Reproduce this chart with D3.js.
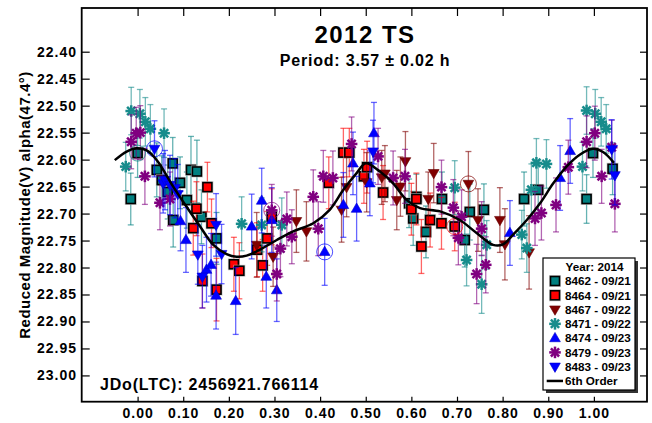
<!DOCTYPE html>
<html><head><meta charset="utf-8">
<script src="https://cdn.jsdelivr.net/npm/d3@7"></script>
<style>
html,body{margin:0;padding:0;background:#fff;}
svg{display:block;}
text{font-family:'Liberation Sans',Arial,sans-serif;font-weight:bold;fill:#000;}
</style></head>
<body>
<svg id="chart" width="652" height="423"></svg>
<script>
// ---------- DATA ----------
const titleText = "2012 TS";
const periodText = "Period: 3.57 \u00b1 0.02 h";
const jdText = "JDo(LTC): 2456921.766114";
const yTitle = "Reduced Magnitude(V) alpha(47.4\u00b0)";
const legendTitle = "Year: 2014";
const sessionIds = ["8462", "8464", "8467", "8471", "8474", "8479", "8483"];
const sessionDates = ["09/21", "09/21", "09/22", "09/22", "09/23", "09/23", "09/23"];
const fitLabel = "6th Order";

const xTicks = [0.0, 0.1, 0.2, 0.3, 0.4, 0.5, 0.6, 0.7, 0.8, 0.9, 1.0];
const yTicks = [22.40, 22.45, 22.50, 22.55, 22.60, 22.65, 22.70, 22.75, 22.80, 22.85, 22.90, 22.95, 23.00];

const p8462 = [-0.015, 0.000, 0.042, 0.077, 0.117, 0.130, 0.053, 0.066, 0.093, 0.108, 0.078, 0.140, 0.173, 0.595, 0.611, 0.604, 0.632, 0.667, 0.728, 0.759, 0.717, 0.847, 0.878, 0.984, 0.998, 1.041];
const m8462 = [22.673, 22.588, 22.619, 22.607, 22.619, 22.622, 22.638, 22.660, 22.643, 22.675, 22.712, 22.706, 22.746, 22.681, 22.669, 22.709, 22.734, 22.673, 22.697, 22.693, 22.749, 22.673, 22.656, 22.673, 22.588, 22.617];
const e8462 = [0.048, 0.045, 0.050, 0.048, 0.062, 0.058, 0.045, 0.050, 0.048, 0.052, 0.050, 0.050, 0.048, 0.045, 0.042, 0.050, 0.048, 0.050, 0.052, 0.048, 0.050, 0.050, 0.048, 0.045, 0.045, 0.048];

const p8464 = [0.153, 0.129, 0.162, 0.122, 0.142, 0.173, 0.211, 0.223, 0.262, 0.274, 0.284, 0.294, 0.419, 0.451, 0.464, 0.496, 0.503, 0.538, 0.600, 0.611, 0.641, 0.666, 0.695, 0.622];
const m8464 = [22.651, 22.691, 22.718, 22.727, 22.825, 22.841, 22.794, 22.806, 22.767, 22.796, 22.746, 22.706, 22.643, 22.587, 22.587, 22.631, 22.614, 22.661, 22.692, 22.673, 22.712, 22.718, 22.724, 22.761];
const e8464 = [0.046, 0.050, 0.045, 0.050, 0.050, 0.058, 0.050, 0.052, 0.050, 0.048, 0.050, 0.052, 0.048, 0.045, 0.045, 0.050, 0.048, 0.050, 0.048, 0.048, 0.050, 0.048, 0.045, 0.050];

const p8467 = [0.261, 0.297, 0.348, 0.370, 0.447, 0.458, 0.502, 0.535, 0.542, 0.568, 0.576, 0.587, 0.637, 0.649, 0.725, 0.746, 0.794, 0.805, 0.858];
const m8467 = [22.758, 22.780, 22.714, 22.733, 22.693, 22.651, 22.642, 22.633, 22.626, 22.675, 22.650, 22.603, 22.673, 22.625, 22.645, 22.712, 22.712, 22.757, 22.772];
const e8467 = [0.060, 0.055, 0.058, 0.055, 0.060, 0.055, 0.055, 0.050, 0.052, 0.055, 0.055, 0.055, 0.050, 0.055, 0.060, 0.058, 0.060, 0.066, 0.068];

const p8471 = [-0.026, -0.014, 0.005, 0.017, 0.028, 0.058, 0.228, 0.272, 0.316, 0.695, 0.721, 0.754, 0.765, 0.842, 0.853, 0.863, 0.874, 0.896, 0.975, 0.984, 1.003, 1.016, 1.027];
const m8471 = [22.613, 22.510, 22.515, 22.530, 22.543, 22.551, 22.719, 22.721, 22.721, 22.652, 22.786, 22.831, 22.758, 22.739, 22.764, 22.656, 22.606, 22.608, 22.613, 22.509, 22.515, 22.530, 22.543];
const e8471 = [0.045, 0.044, 0.045, 0.045, 0.045, 0.045, 0.050, 0.050, 0.050, 0.050, 0.048, 0.054, 0.045, 0.045, 0.045, 0.048, 0.045, 0.045, 0.045, 0.044, 0.045, 0.045, 0.045];

const p8474 = [0.094, 0.106, 0.151, 0.161, 0.172, 0.215, 0.250, 0.272, 0.282, 0.294, 0.305, 0.410, 0.451, 0.480, 0.472, 0.509, 0.518, 0.816, 0.926, 0.948];
const m8474 = [22.714, 22.749, 22.804, 22.795, 22.852, 22.862, 22.724, 22.676, 22.817, 22.712, 22.842, 22.771, 22.684, 22.691, 22.607, 22.644, 22.551, 22.736, 22.634, 22.584];
const e8474 = [0.055, 0.060, 0.060, 0.058, 0.062, 0.062, 0.060, 0.060, 0.058, 0.060, 0.058, 0.062, 0.060, 0.060, 0.058, 0.060, 0.057, 0.060, 0.060, 0.060];

const p8479 = [-0.014, -0.003, 0.006, 0.016, 0.049, 0.071, 0.294, 0.327, 0.338, 0.313, 0.305, 0.396, 0.385, 0.407, 0.428, 0.469, 0.527, 0.560, 0.586, 0.666, 0.692, 0.710, 0.754, 0.703, 0.743, 0.763, 0.885, 0.871, 0.917, 0.944, 0.984, 1.002, 1.017, 1.039, 1.046];
const m8479 = [22.567, 22.551, 22.550, 22.631, 22.680, 22.673, 22.694, 22.710, 22.743, 22.765, 22.812, 22.728, 22.669, 22.631, 22.634, 22.571, 22.594, 22.634, 22.631, 22.651, 22.689, 22.706, 22.728, 22.745, 22.812, 22.795, 22.699, 22.709, 22.684, 22.614, 22.567, 22.551, 22.631, 22.577, 22.682];
const e8479 = [0.050, 0.048, 0.050, 0.052, 0.050, 0.050, 0.048, 0.050, 0.050, 0.052, 0.050, 0.050, 0.050, 0.048, 0.050, 0.050, 0.052, 0.050, 0.050, 0.050, 0.052, 0.050, 0.050, 0.050, 0.055, 0.052, 0.050, 0.050, 0.050, 0.050, 0.048, 0.050, 0.050, 0.050, 0.052];

const p8483 = [0.037, 0.056, 0.060, 0.071, 0.082, 0.088, 0.132, 0.142, 0.172, 0.184, 0.516, 1.039, 1.046];
const m8483 = [22.580, 22.644, 22.638, 22.647, 22.653, 22.664, 22.776, 22.817, 22.721, 22.775, 22.585, 22.581, 22.629];
const e8483 = [0.052, 0.055, 0.055, 0.055, 0.055, 0.055, 0.055, 0.058, 0.058, 0.055, 0.058, 0.055, 0.055];

// points that carry an extra ring marker: [session index, point index]
const ringed = [[0, 1], [6, 0], [5, 6], [4, 11], [2, 14], [1, 22]];

const fitPhase = [-0.050, -0.024, -0.002, 0.020, 0.043, 0.078, 0.107, 0.137, 0.166, 0.195, 0.217, 0.239, 0.268, 0.305, 0.341, 0.385, 0.421, 0.451, 0.480, 0.500, 0.531, 0.560, 0.590, 0.619, 0.663, 0.706, 0.743, 0.779, 0.801, 0.823, 0.853, 0.882, 0.911, 0.940, 0.969, 0.998, 1.020, 1.044];
const fitMag = [22.601, 22.585, 22.579, 22.583, 22.602, 22.650, 22.687, 22.724, 22.758, 22.775, 22.780, 22.778, 22.767, 22.749, 22.733, 22.718, 22.693, 22.656, 22.625, 22.607, 22.622, 22.644, 22.675, 22.690, 22.696, 22.712, 22.736, 22.758, 22.757, 22.739, 22.712, 22.681, 22.644, 22.613, 22.591, 22.580, 22.586, 22.606];

// ---------- STYLE ----------
const seriesStyle = [
  {shape: "square", color: "#008080"},
  {shape: "square", color: "#ff0000"},
  {shape: "tdown", color: "#800000"},
  {shape: "star", color: "#178c8c"},
  {shape: "tup", color: "#0000ff"},
  {shape: "star", color: "#800080"},
  {shape: "tdown", color: "#0000ff"}
];
const phases = [p8462, p8464, p8467, p8471, p8474, p8479, p8483];
const mags = [m8462, m8464, m8467, m8471, m8474, m8479, m8483];
const errs = [e8462, e8464, e8467, e8471, e8474, e8479, e8483];

const svg = d3.select("#chart");
const L = 81.7, R = 647, T = 8, B = 401.7;
const x = d3.scaleLinear().domain([-0.1225, 1.1175]).range([L, 647.5]);
const y = d3.scaleLinear().domain([22.319, 23.0487]).range([T, B]);

function drawMarker(g, shape, color, cx, cy) {
  if (shape === "square") {
    g.append("rect").attr("x", cx - 6).attr("y", cy - 6).attr("width", 12).attr("height", 12)
      .attr("fill", "#b8b8b8").attr("opacity", 0.7);
    g.append("rect").attr("x", cx - 4.5).attr("y", cy - 4.5).attr("width", 9).attr("height", 9)
      .attr("fill", color).attr("stroke", "#000").attr("stroke-width", 1.6);
  } else if (shape === "tup" || shape === "tdown") {
    const sym = d3.symbol().type(d3.symbolTriangle).size(50);
    g.append("path").attr("d", sym())
      .attr("transform", `translate(${cx},${cy + (shape === "tup" ? 0.5 : -0.5)}) rotate(${shape === "tup" ? 0 : 180})`)
      .attr("fill", color).attr("stroke", d3.color(color).darker(0.6)).attr("stroke-width", 0.6);
  } else {
    const r = 5.8, gg = g.append("g").attr("transform", `translate(${cx},${cy})`);
    [0, 45, 90, 135].forEach(a => {
      const rad = a * Math.PI / 180;
      gg.append("line").attr("x1", -r * Math.cos(rad)).attr("y1", -r * Math.sin(rad))
        .attr("x2", r * Math.cos(rad)).attr("y2", r * Math.sin(rad))
        .attr("stroke", color).attr("stroke-width", 2.5);
    });
    gg.append("circle").attr("r", 2.4).attr("fill", color);
  }
}

// ---------- DATA LAYER ----------
const plot = svg.append("g");
phases.forEach((ph, si) => {
  const st = seriesStyle[si];
  const gBars = plot.append("g").attr("stroke", st.color).attr("stroke-opacity", 0.6).attr("stroke-width", 1.3);
  ph.forEach((p, i) => {
    const cx = x(p), y1 = y(mags[si][i] - errs[si][i]), y2 = y(mags[si][i] + errs[si][i]);
    gBars.append("line").attr("x1", cx).attr("x2", cx).attr("y1", y1).attr("y2", y2);
    gBars.append("line").attr("x1", cx - 3).attr("x2", cx + 3).attr("y1", y1).attr("y2", y1);
    gBars.append("line").attr("x1", cx - 3).attr("x2", cx + 3).attr("y1", y2).attr("y2", y2);
  });
  const gM = plot.append("g");
  ph.forEach((p, i) => drawMarker(gM, st.shape, st.color, x(p), y(mags[si][i])));
});

ringed.forEach(([si, i]) => {
  const st = seriesStyle[si];
  plot.append("circle").attr("cx", x(phases[si][i])).attr("cy", y(mags[si][i])).attr("r", 8)
    .attr("fill", "none").attr("stroke", st.color).attr("stroke-opacity", 0.7).attr("stroke-width", 1);
});

// fit curve
const fitLine = d3.line().x(d => x(d[0])).y(d => y(d[1])).curve(d3.curveCatmullRom.alpha(0.5));
plot.append("path").datum(fitPhase.map((p, i) => [p, fitMag[i]]))
  .attr("d", fitLine).attr("fill", "none").attr("stroke", "#000").attr("stroke-width", 2.5);

// ---------- AXES ----------
const fmt = d3.format(".2f");
const ax = svg.append("g").attr("transform", `translate(0,${B})`)
  .call(d3.axisBottom(x).tickValues(xTicks).tickFormat(fmt).tickSizeInner(-5).tickSizeOuter(0).tickPadding(6.6));
const axT = svg.append("g").attr("transform", `translate(0,${T})`)
  .call(d3.axisTop(x).tickValues(xTicks).tickFormat("").tickSizeInner(-8).tickSizeOuter(0));
const ay = svg.append("g").attr("transform", `translate(${L},0)`)
  .call(d3.axisLeft(y).tickValues(yTicks).tickFormat(fmt).tickSizeInner(-8).tickSizeOuter(0).tickPadding(4.7));
const ayR = svg.append("g").attr("transform", `translate(${R},0)`)
  .call(d3.axisRight(y).tickValues(yTicks).tickFormat("").tickSizeInner(-7).tickSizeOuter(0));
[ax, axT, ay, ayR].forEach(g => {
  g.select(".domain").remove();
  g.selectAll(".tick line").attr("stroke", "#000").attr("stroke-width", 1.2);
  g.selectAll("text").attr("font-size", 14).attr("letter-spacing", 1).attr("fill", "#000")
    .style("font-family", "'Liberation Sans', Arial, sans-serif").style("font-weight", "bold");
});
svg.append("rect").attr("x", L).attr("y", T).attr("width", R - L).attr("height", B - T)
  .attr("fill", "none").attr("stroke", "#000").attr("stroke-width", 1.8);

// ---------- TEXTS ----------
svg.append("text").attr("x", 365).attr("y", 43).attr("text-anchor", "middle")
  .attr("font-size", 24).attr("letter-spacing", 1.5).text(titleText);
svg.append("text").attr("x", 365).attr("y", 65.7).attr("text-anchor", "middle")
  .attr("font-size", 16).attr("letter-spacing", 0.8).text(periodText);
svg.append("text").attr("x", 100).attr("y", 390)
  .attr("font-size", 16).attr("letter-spacing", 0.8).text(jdText);
svg.append("text").attr("transform", "translate(30,205) rotate(-90)").attr("text-anchor", "middle")
  .attr("font-size", 15).attr("letter-spacing", 0.5).text(yTitle);

// ---------- LEGEND ----------
const lg = svg.append("g");
const lx = 543, ly = 258, lw = 92, lh = 132;
lg.append("rect").attr("x", lx + 3).attr("y", ly + 3).attr("width", lw).attr("height", lh).attr("fill", "#333");
lg.append("rect").attr("x", lx).attr("y", ly).attr("width", lw).attr("height", lh)
  .attr("fill", "#fff").attr("stroke", "#000").attr("stroke-width", 1.2);
lg.append("text").attr("x", 594.5).attr("y", 271).attr("text-anchor", "middle")
  .attr("font-size", 11.7).text(legendTitle);
const rowY = i => 281 + 14.28 * i;
sessionIds.forEach((id, i) => {
  drawMarker(lg, seriesStyle[i].shape, seriesStyle[i].color, 555, rowY(i));
  lg.append("text").attr("x", 565).attr("y", rowY(i) + 4.3)
    .attr("font-size", 11.7).text(id + " - " + sessionDates[i]);
});
lg.append("line").attr("x1", 546.7).attr("x2", 563).attr("y1", rowY(7)).attr("y2", rowY(7))
  .attr("stroke", "#000").attr("stroke-width", 2.5);
lg.append("text").attr("x", 565).attr("y", rowY(7) + 4.3)
  .attr("font-size", 11.7).text(fitLabel);
</script>
</body></html>
